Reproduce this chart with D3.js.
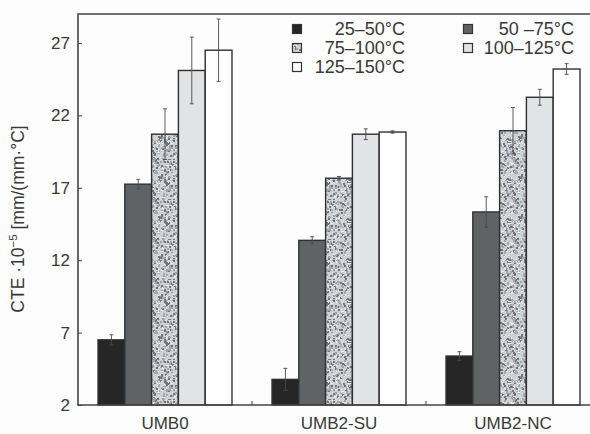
<!doctype html>
<html lang="en">
<head>
<meta charset="utf-8">
<title>CTE by temperature range</title>
<style>
html, body {
	margin: 0;
	padding: 0;
	background: #fdfdfd;
	overflow: hidden;
}
svg text {
	font-family: 'Liberation Sans', Arial, sans-serif;
	fill: #383838;
}
</style>
</head>
<body>
<div id="chart"></div>
<script src="https://cdnjs.cloudflare.com/ajax/libs/d3/7.8.5/d3.min.js"></script>
<script>
// data
var groups = ['UMB0', 'UMB2-SU', 'UMB2-NC'];
var ranges = ['25\u201350\u00b0C', '50 \u201375\u00b0C', '75\u2013100\u00b0C', '100\u2013125\u00b0C', '125\u2013150\u00b0C'];
var umb0 = [6.5, 17.25, 20.7, 25.1, 26.5];
var umb0Err = [0.35, 0.33, 1.75, 2.3, 2.15];
var umb2su = [3.77, 13.37, 17.66, 20.7, 20.85];
var umb2suErr = [0.76, 0.25, 0.12, 0.37, 0.08];
var umb2nc = [5.38, 15.33, 20.94, 23.25, 25.2];
var umb2ncErr = [0.3, 1.05, 1.6, 0.55, 0.37];
var yTicks = [2, 7, 12, 17, 22, 27];

var W = 590, H = 434;
var M = { left: 78, top: 14, bottom: 405, right: 600 };

var fills = ['#262626', '#5f6366', 'url(#speckle)', '#e1e3e7', '#ffffff'];

var svg = d3.select('#chart').append('svg')
	.attr('width', W)
	.attr('height', H);

// mottled fill for the 75-100 bars (fixed LCG so it's the same every time)
var defs = svg.append('defs');
var pat = defs.append('pattern')
	.attr('id', 'speckle')
	.attr('patternUnits', 'userSpaceOnUse')
	.attr('width', 40).attr('height', 40);
pat.append('rect').attr('width', 40).attr('height', 40).attr('fill', '#cdd0d3');
var seed = 11;
var lcg = function () {
	seed = (seed * 1103515245 + 12345) % 2147483648;
	return seed / 2147483648;
};
for (var i = 0; i < 420; i++) {
	var t = lcg();
	pat.append('rect')
		.attr('x', Math.floor(lcg() * 40))
		.attr('y', Math.floor(lcg() * 40))
		.attr('width', t < 0.6 ? 2 : 1)
		.attr('height', t < 0.4 ? 2 : 1)
		.attr('fill', t < 0.18 ? '#707478' : (t < 0.55 ? '#a2a5a9' : '#eceeef'));
}

var x = d3.scaleBand()
	.domain(groups)
	.range([M.left, M.right])
	.paddingInner(0.23)
	.paddingOuter(0.115);

var x1 = d3.scaleBand()
	.domain(d3.range(ranges.length))
	.range([0, x.bandwidth()]);

var y = d3.scaleLinear()
	.domain([2, 29])
	.range([M.bottom, M.top]);

var table = [umb0, umb2su, umb2nc].map(function (vals, gi) {
	var errs = [umb0Err, umb2suErr, umb2ncErr][gi];
	return vals.map(function (v, k) {
		return { group: groups[gi], k: k, v: v, e: errs[k] };
	});
});
var flat = d3.merge(table);

// bars
svg.append('g').selectAll('rect')
	.data(flat).enter()
	.append('rect')
	.attr('x', function (d) { return x(d.group) + x1(d.k); })
	.attr('y', function (d) { return y(d.v); })
	.attr('width', x1.bandwidth())
	.attr('height', function (d) { return y(2) - y(d.v); })
	.attr('fill', function (d) { return fills[d.k]; })
	.attr('stroke', '#303030')
	.attr('stroke-width', 1.4);

// error bars
var eb = svg.append('g')
	.attr('stroke', '#4a4a4a')
	.attr('stroke-width', 0.9);
flat.forEach(function (d) {
	var cx = x(d.group) + x1(d.k) + x1.bandwidth() / 2;
	eb.append('line').attr('x1', cx).attr('x2', cx)
		.attr('y1', y(d.v + d.e)).attr('y2', y(d.v - d.e));
	eb.append('line').attr('x1', cx - 2).attr('x2', cx + 2)
		.attr('y1', y(d.v + d.e)).attr('y2', y(d.v + d.e));
	eb.append('line').attr('x1', cx - 2).attr('x2', cx + 2)
		.attr('y1', y(d.v - d.e)).attr('y2', y(d.v - d.e));
});

// frame
var frame = svg.append('g').attr('stroke', '#444').attr('stroke-width', 1.6).attr('fill', 'none');
frame.append('path')
	.attr('d', 'M' + W + ',' + M.top + 'H' + M.left + 'V' + M.bottom + 'H' + W);

// y axis (ticks inside)
var yAxis = svg.append('g')
	.attr('transform', 'translate(' + M.left + ',0)')
	.call(d3.axisRight(y).tickValues(yTicks).tickSize(4).tickFormat(''));
yAxis.select('.domain').remove();
yAxis.selectAll('line').attr('stroke', '#444').attr('stroke-width', 1);

svg.append('g').selectAll('text')
	.data(yTicks).enter()
	.append('text')
	.attr('x', 70)
	.attr('y', function (d) { return y(d); })
	.attr('dy', '0.36em')
	.attr('text-anchor', 'end')
	.style('font-size', '17px')
	.text(function (d) { return d; });

// small ticks between groups
var step = x.step();
svg.append('g').selectAll('line')
	.data(groups.slice(1)).enter()
	.append('line')
	.attr('x1', function (d) { return x(d) - (step - x.bandwidth()) / 2; })
	.attr('x2', function (d) { return x(d) - (step - x.bandwidth()) / 2; })
	.attr('y1', M.bottom).attr('y2', M.bottom - 4)
	.attr('stroke', '#444').attr('stroke-width', 1);

// x labels
svg.append('g').selectAll('text')
	.data(groups).enter()
	.append('text')
	.attr('x', function (d) { return x(d) + x.bandwidth() / 2; })
	.attr('y', 429)
	.attr('text-anchor', 'middle')
	.style('font-size', '17px')
	.text(function (d) { return d; });

// y label
svg.append('text')
	.attr('transform', 'translate(24,' + 219 + ') rotate(-90)')
	.attr('text-anchor', 'middle')
	.style('font-size', '17.5px')
	.html('CTE \u00b710<tspan dy="-7" style="font-size:11.5px">\u22125</tspan><tspan dy="7"> [mm/(mm\u00b7\u00b0C]</tspan>');

// legend
var legendPos = [
	{ sx: 297, tx: 405, ty: 29 },
	{ sx: 468, tx: 574, ty: 29 },
	{ sx: 297, tx: 405, ty: 48 },
	{ sx: 468, tx: 574, ty: 48 },
	{ sx: 297, tx: 405, ty: 67 }
];
var lg = svg.append('g');
ranges.forEach(function (r, k) {
	var p = legendPos[k];
	lg.append('rect')
		.attr('x', p.sx - 4.5).attr('y', p.ty - 4.5)
		.attr('width', 9).attr('height', 9)
		.attr('fill', fills[k])
		.attr('stroke', '#333').attr('stroke-width', 1.2);
	lg.append('text')
		.attr('x', p.tx).attr('y', p.ty)
		.attr('dy', '0.36em')
		.attr('text-anchor', 'end')
		.style('font-size', '18px')
		.text(r);
});
</script>
</body>
</html>
